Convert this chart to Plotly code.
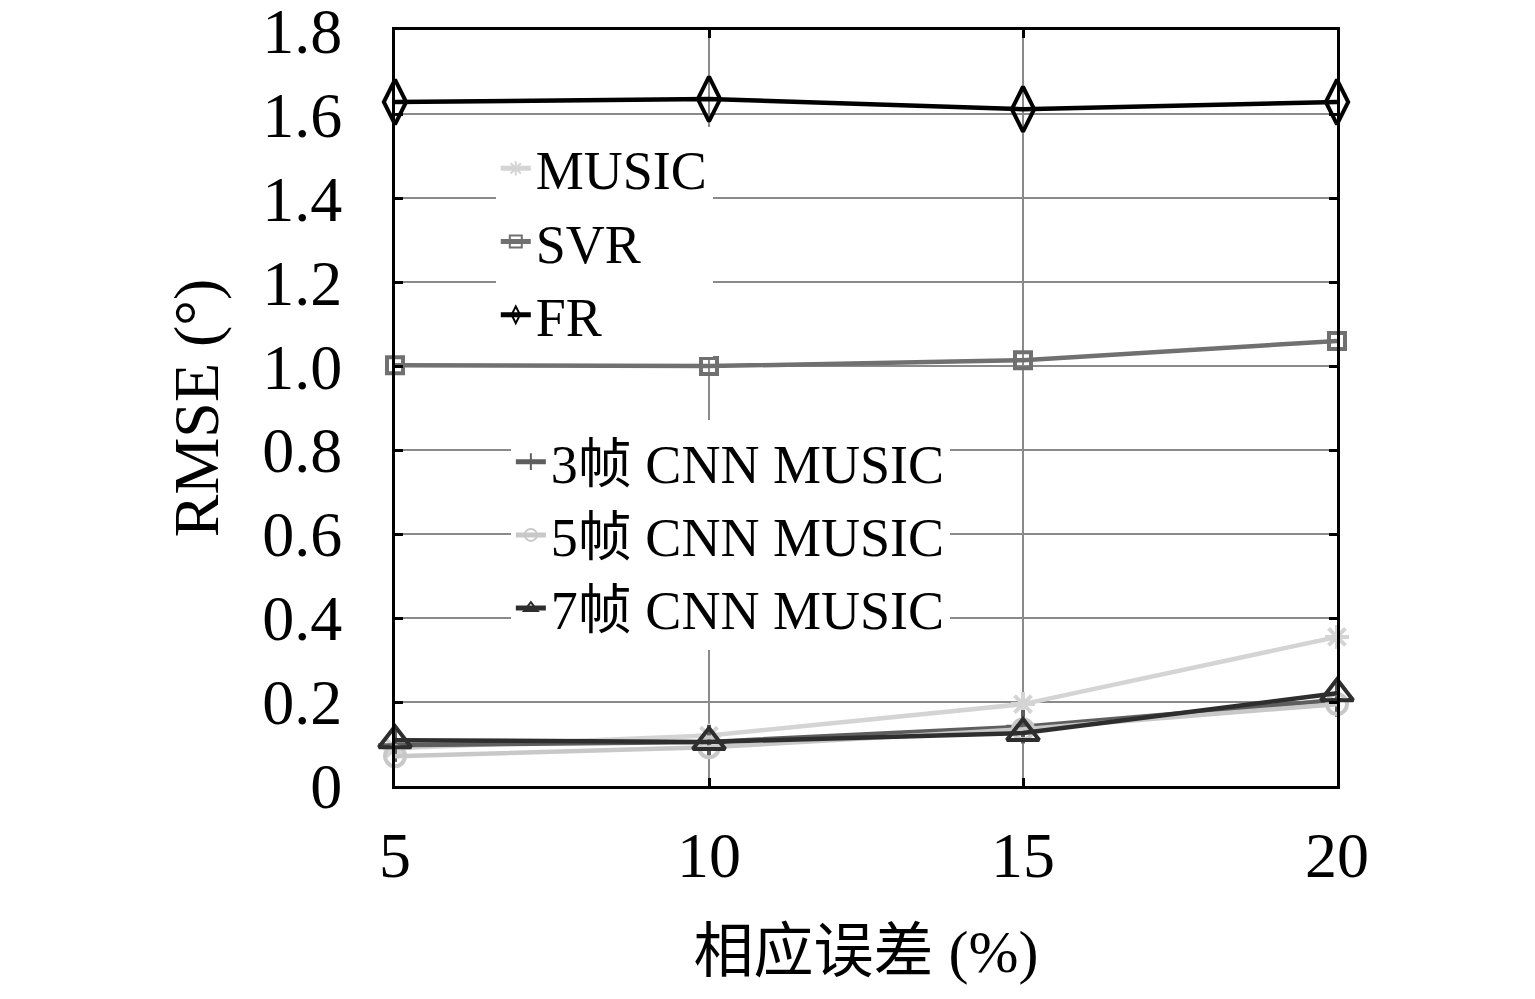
import plotly.graph_objects as go

# x: relative error (%)
errors = [5, 10, 15, 20]

# RMSE (deg) per method
music = [0.09, 0.12, 0.195, 0.355]
svr = [1.002, 1.0, 1.014, 1.06]
fr = [1.629, 1.636, 1.612, 1.629]
cnn3 = [0.097, 0.105, 0.141, 0.205]
cnn5 = [0.071, 0.092, 0.135, 0.195]
cnn7 = [0.109, 0.105, 0.126, 0.221]

y_ticks = [0, 0.2, 0.4, 0.6, 0.8, 1.0, 1.2, 1.4, 1.6, 1.8]
y_tick_text = ["0", "0.2", "0.4", "0.6", "0.8", "1.0", "1.2", "1.4", "1.6", "1.8"]

FONT = "Liberation Serif, DejaVu Serif, Noto Sans CJK SC, serif"

series = [
    # name, values, color, symbol, size, legend
    ("MUSIC", music, "#d4d4d4", "asterisk-open", 20, "legend"),
    ("SVR", svr, "#707070", "square-open", 16, "legend"),
    ("FR", fr, "#000000", "diamond-tall-open", 32, "legend"),
    ("3帧 CNN MUSIC", cnn3, "#5e5e5e", "cross-thin-open", 24, "legend2"),
    ("5帧 CNN MUSIC", cnn5, "#c8c8c8", "circle-open", 20, "legend2"),
    ("7帧 CNN MUSIC", cnn7, "#2e2e2e", "triangle-up-open", 28, "legend2"),
]

fig = go.Figure()
for name, vals, color, symbol, size, leg in series:
    fig.add_trace(go.Scatter(
        x=errors,
        y=vals,
        mode="lines+markers",
        name=name,
        legend=leg,
        cliponaxis=False,
        line=dict(color=color, width=4.5),
        marker=dict(symbol=symbol, size=size, color=color,
                    line=dict(color=color, width=4)),
    ))

axis_common = dict(
    showline=True,
    linecolor="black",
    linewidth=3,
    mirror="allticks",
    ticks="inside",
    ticklen=8,
    tickwidth=3,
    tickcolor="black",
    showgrid=True,
    gridcolor="#8a8a8a",
    gridwidth=1.5,
    zeroline=False,
    automargin=False,
    ticklabeloverflow="allow",
    tickfont=dict(family=FONT, size=64, color="black"),
)

# the page body adds an 8px offset, so the figure is a bit smaller
fig.update_layout(
    width=1527,
    height=991,
    margin=dict(l=387, r=198, t=22, b=213),
    paper_bgcolor="white",
    plot_bgcolor="white",
    font=dict(family=FONT, color="black"),
    xaxis=dict(
        **axis_common,
        range=[5, 20],
        tickvals=errors,
        ticklabelstandoff=11,
        title=dict(text="相应误差 (%)", font=dict(family=FONT, size=60), standoff=41),
    ),
    yaxis=dict(
        **axis_common,
        range=[0, 1.8005],
        tickvals=y_ticks,
        ticktext=y_tick_text,
        ticklabelstandoff=37,
        title=dict(text="RMSE (°)", font=dict(family=FONT, size=64), standoff=23),
    ),
    legend=dict(
        x=0.107, y=0.872, xanchor="left", yanchor="top",
        bgcolor="white",
        font=dict(family=FONT, size=54),
        tracegroupgap=0,
        itemsizing="constant",
    ),
    legend2=dict(
        x=0.123, y=0.484, xanchor="left", yanchor="top",
        bgcolor="white",
        font=dict(family=FONT, size=54),
        tracegroupgap=0,
        itemsizing="constant",
    ),
)

fig.write_html("out.html")
